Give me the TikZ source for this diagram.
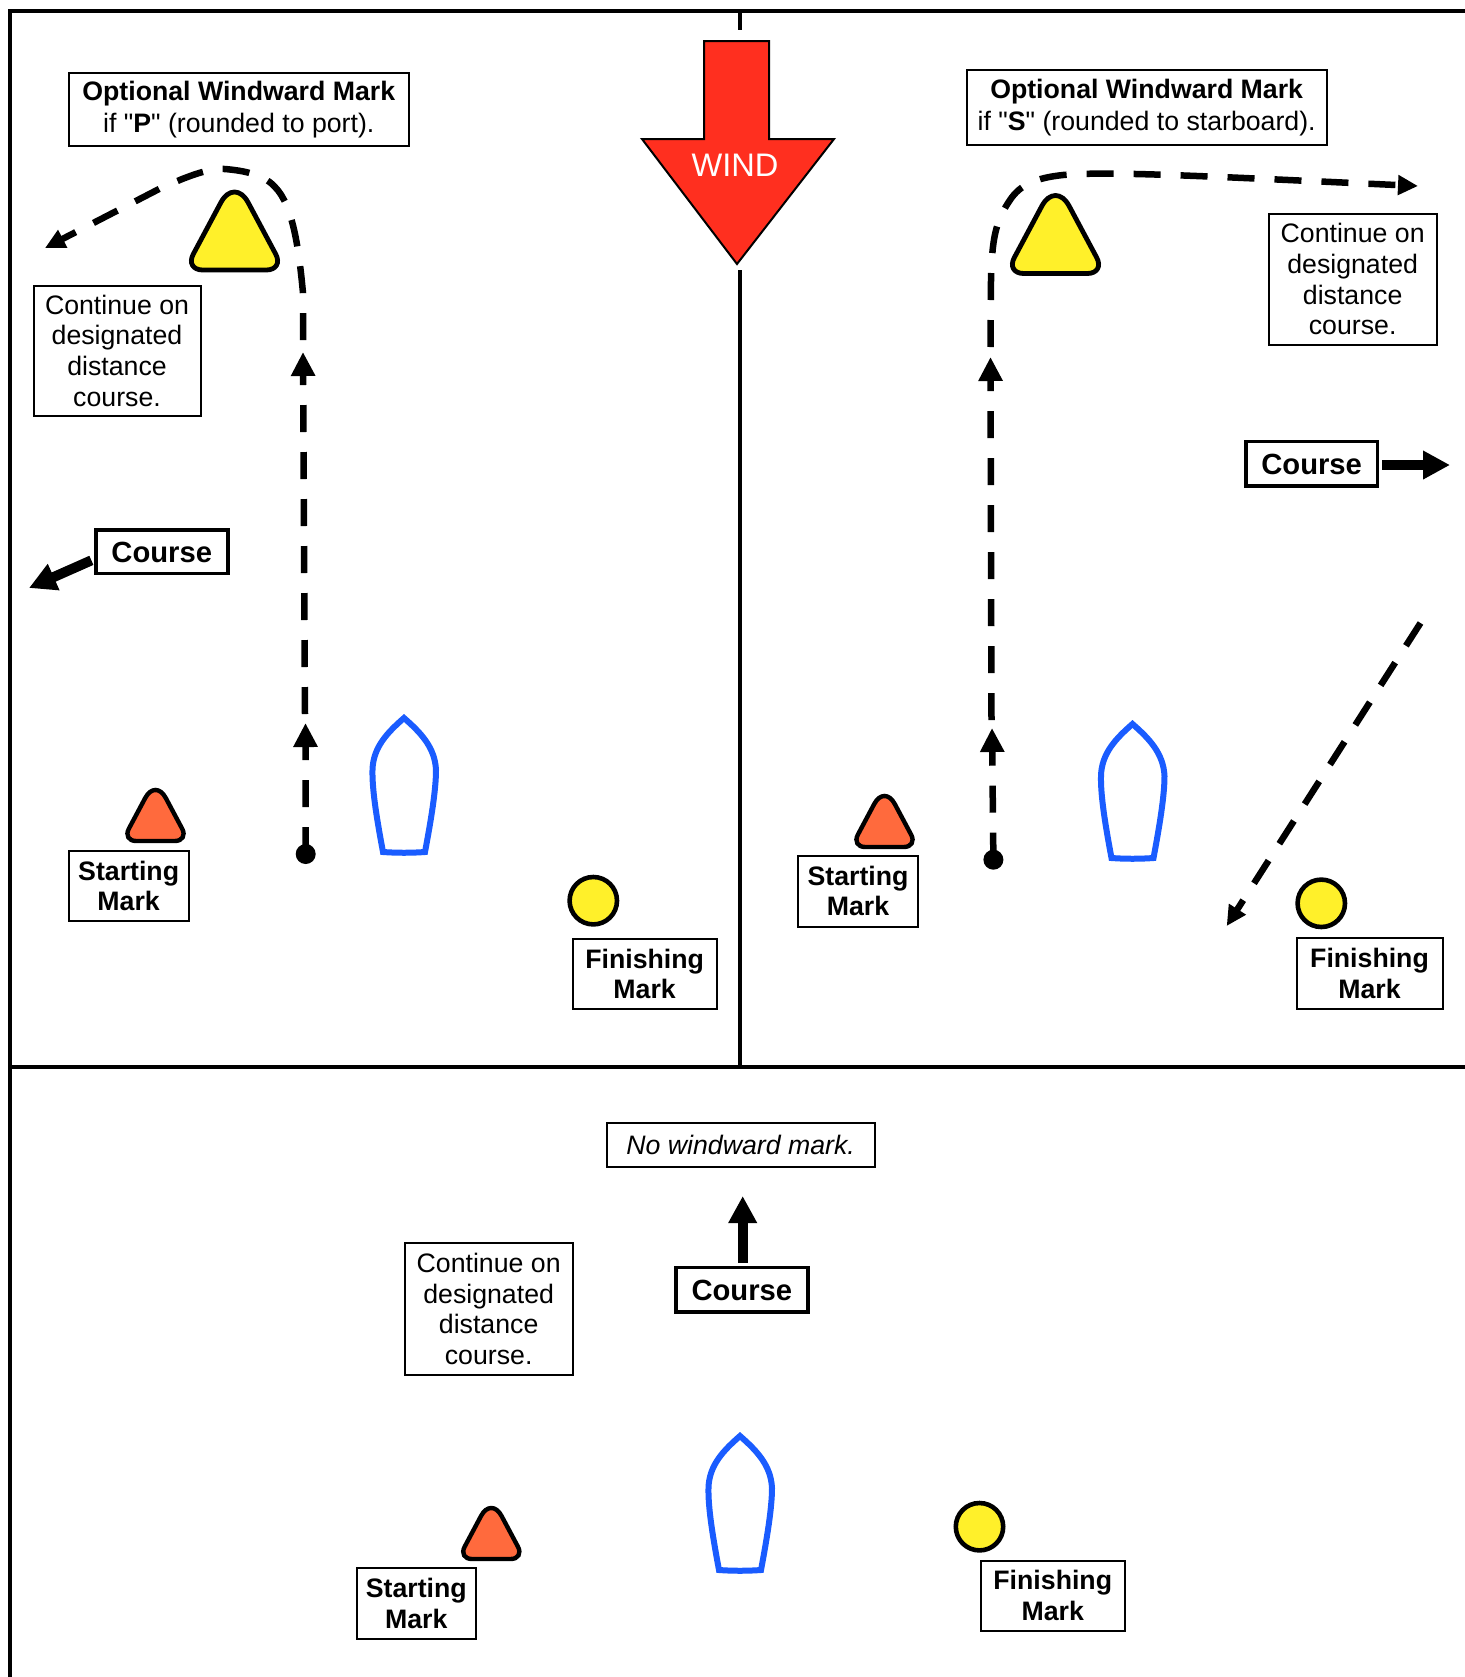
\documentclass[tikz,border=0pt]{standalone}
\usepackage{fontspec}
\setmainfont{Liberation Sans}
\newfontfamily\plainarial{Liberation Sans}
\newcommand{\straightq}{{\plainarial"}}
\usetikzlibrary{arrows.meta}
\definecolor{markyellow}{HTML}{FFF02A}
\definecolor{markorange}{HTML}{FF6A3D}
\definecolor{windred}{HTML}{FF2F1F}
\definecolor{boatblue}{HTML}{1A5CFF}
\tikzset{
  frameline/.style={line width=2pt,black},
  lbl/.style={draw=black,line width=1pt,inner sep=0pt,outer sep=0pt,align=center,text=black,
    font=\fontsize{13.35}{15.35}\selectfont,
    execute at end node={\par\vspace{-1pt}}},
  coursebox/.style={draw=black,line width=1.75pt,inner sep=0pt,outer sep=0pt,
    font=\fontsize{14.6}{17}\selectfont\bfseries,
    execute at begin node={\rule{0pt}{11.1pt}}},
  dashline/.style={line width=3.25pt,black,dash pattern=on 13.5pt off 10pt},
  bigtip/.style={-{Triangle[length=12pt,width=11.5pt]}},
  smalltip/.style={-{Triangle[length=10pt,width=9.5pt]}},
  coursearrow/.style={line width=5pt,black,-{Triangle[length=13.5pt,width=13.5pt]},shorten <=2.4pt},
  startdot/.style={circle,fill=black,inner sep=0pt,minimum size=10pt},
  finmark/.style={circle,draw=black,fill=markyellow,line width=2.3pt,inner sep=0pt,minimum size=23.7pt},
  boathull/.pic={
    \draw[boatblue,line width=3pt,line join=miter]
      (404,718) .. controls (420,732) and (435,747) .. (436,770)
      .. controls (436,790) and (431,820) .. (425,852)
      .. controls (411,853) and (397,853) .. (383,852)
      .. controls (377,820) and (372,790) .. (372.5,770)
      .. controls (373,747) and (388,732) .. (404,718) -- cycle;
  },
  windwardmark/.pic={
    \draw[black,fill=markyellow,line width=2.4pt]
      (234.5,270) [rounded corners=9pt] -- (284.2,270) [rounded corners=14.5pt] -- (234.5,177)
      [rounded corners=9pt] -- (184.8,270) [sharp corners] -- cycle;
  },
  startmark/.pic={
    \draw[black,fill=markorange,line width=2.2pt]
      (155.5,841) [rounded corners=7pt] -- (188.7,841) [rounded corners=10.9pt] -- (155.5,778.7)
      [rounded corners=7pt] -- (122.3,841) [sharp corners] -- cycle;
  },
}
\begin{document}
\begin{tikzpicture}[x=0.5pt,y=-0.5pt]
\useasboundingbox (0,0) rectangle (1465,1677);
\fill[white] (0,0) rectangle (1465,1677);
% frame
\draw[frameline] (8,11) -- (1465,11);
\draw[frameline] (10,9) -- (10,1677);
\draw[frameline] (8,1066.5) -- (1465,1066.5);
\draw[frameline] (739.5,11) -- (739.5,30);
\draw[frameline] (739.5,270) -- (739.5,1066.5);
% wind arrow
\draw[black,fill=windred,line width=1pt,line join=miter]
  (704,41) -- (769,41) -- (769,139) -- (834,139) -- (737,264) -- (642,139) -- (704,139) -- cycle;
\node (wind) at (735,165) [text=white,inner sep=0pt,font=\fontsize{16.3}{19}\selectfont] {WIND};
% labels
\node[lbl,minimum width=169.75pt,minimum height=36.75pt] (optP) at (238.75,109.25) {\textbf{Optional Windward Mark}\\[0.65pt]if \straightq\textbf{P}\straightq{} (rounded to port).};
\node[lbl,minimum width=83.5pt,minimum height=65pt] (contP) at (117,350.5) {Continue on\\designated\\distance\\course.};
\node[coursebox,minimum width=66pt,minimum height=21.75pt] (courseL) at (161.75,551.5) {Course};
\node[lbl,minimum width=59.85pt,minimum height=35pt] (startL) at (128.65,885.8) {\textbf{Starting}\\\textbf{Mark}};
\node[lbl,minimum width=71.85pt,minimum height=35.2pt] (finL) at (644.65,974) {\textbf{Finishing}\\\textbf{Mark}};
\node[lbl,minimum width=179.85pt,minimum height=37.85pt] (optS) at (1146.65,107.35) {\textbf{Optional Windward Mark}\\[0.65pt]if \straightq\textbf{S}\straightq{} (rounded to starboard).};
\node[lbl,minimum width=83.85pt,minimum height=65.85pt] (contS) at (1352.65,279.35) {Continue on\\designated\\distance\\course.};
\node[coursebox,minimum width=65.9pt,minimum height=22.25pt] (courseR) at (1311.65,463.7) {Course};
\node[lbl,minimum width=59.95pt,minimum height=35.5pt] (startR) at (858,891) {\textbf{Starting}\\\textbf{Mark}};
\node[lbl,minimum width=73pt,minimum height=35.3pt] (finR) at (1369.5,973.5) {\textbf{Finishing}\\\textbf{Mark}};
\node[lbl,minimum width=133.85pt,minimum height=22pt] (noWind) at (740.65,1145.2) {\textit{No windward mark.}};
\node[lbl,minimum width=83.85pt,minimum height=65.8pt] (contB) at (488.65,1309) {Continue on\\designated\\distance\\course.};
\node[coursebox,minimum width=66.1pt,minimum height=22.25pt] (courseB) at (741.85,1289.7) {Course};
\node[lbl,minimum width=59.75pt,minimum height=35.3pt] (startB) at (416.25,1603.5) {\textbf{Starting}\\\textbf{Mark}};
\node[lbl,minimum width=71.75pt,minimum height=35.15pt] (finB) at (1052.75,1595.65) {\textbf{Finishing}\\\textbf{Mark}};
% marks
\pic at (0,0) {windwardmark};
\pic at (821,3.5) {windwardmark};
\pic at (0,0) {startmark};
\pic at (729,6) {startmark};
\pic at (335.8,718) {startmark};
\pic at (0,0) {boathull};
\pic at (728.5,6) {boathull};
\pic at (336,718) {boathull};
\node[finmark] (circL) at (593.3,900.7) {};
\node[finmark] (circR) at (1321.3,903.3) {};
\node[finmark] (circB) at (979.5,1526.7) {};
% course arrows
\coordinate (tipCL) at (29,588);
\coordinate (tipCR) at (1450,465);
\coordinate (tipCB) at (742.7,1196);
\draw[coursearrow] ([yshift=-3.45pt]courseL.west) -- (tipCL);
\draw[coursearrow] (courseR.east |- tipCR) -- (tipCR);
\draw[coursearrow] (courseB.north -| tipCB) -- (tipCB);
% left panel course line
\node[startdot] (dotL) at (305.7,854) {};
\coordinate (tipL1) at (305.5,723);
\coordinate (tailL2) at (305,714);
\coordinate (tipL2) at (303,352);
\coordinate (tailL3) at (303,340);
\coordinate (tipL3) at (45,248);
\draw[dashline,bigtip] (dotL.center) -- (tipL1);
\draw[dashline,bigtip] (tailL2) -- (tipL2);
\draw[dashline,smalltip] (tailL3) -- (303,293)
  .. controls (299,250) and (293,205) .. (275,187)
  .. controls (262,172) and (235,170) .. (225,169)
  .. controls (205,168) and (180,180) .. (161,188) -- (tipL3);
% right panel course line
\node[startdot] (dotR) at (993.4,859.7) {};
\coordinate (tipR1) at (992,728);
\coordinate (tailR2) at (991.5,720);
\coordinate (tipR2) at (990.5,357);
\coordinate (tailR3) at (990.5,347);
\coordinate (tipR3) at (1418,186);
\draw[dashline,bigtip] (dotR.center) -- (tipR1);
\draw[dashline,bigtip] (tailR2) -- (tipR2);
\draw[dashline,smalltip] (tailR3) -- (991,280)
  .. controls (992,240) and (995,222) .. (1010,200)
  .. controls (1020,185) and (1035,178) .. (1063,175)
  .. controls (1110,171) and (1200,176) .. (tipR3);
% finish leg
\coordinate (tailR4) at (1420.5,623);
\coordinate (tipR4) at (1226.7,926);
\draw[dashline,smalltip] (tailR4) -- (tipR4);
\end{tikzpicture}
\end{document}
